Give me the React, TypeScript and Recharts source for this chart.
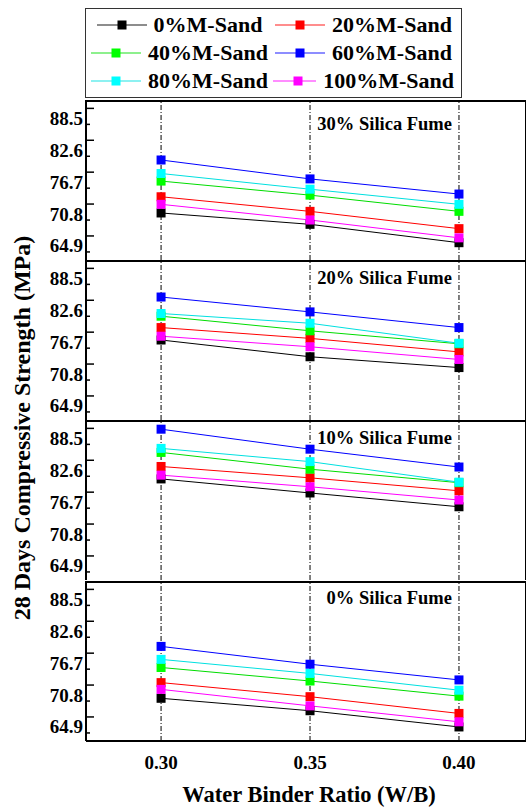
import React from 'react';
import { LineChart, Line, XAxis, YAxis, ReferenceLine } from 'recharts';

const wbRatios = [0.3, 0.35, 0.4];
const seriesNames = ['0%M-Sand', '20%M-Sand', '40%M-Sand', '60%M-Sand', '80%M-Sand', '100%M-Sand'];
const markerColors = ['#000000', '#ff0000', '#00ff00', '#0000ff', '#00ffff', '#ff00ff'];
const lineColors = ['#000000', '#ff0000', '#00dd00', '#0000ff', '#00e0e0', '#ff00ff'];
const yTicks = [64.9, 70.8, 76.7, 82.6, 88.5];
const panelTitles = ['30% Silica Fume', '20% Silica Fume', '10% Silica Fume', '0% Silica Fume'];

// values at W/B 0.30, 0.35, 0.40 for each M-Sand series (0,20,40,60,80,100 %)
const sf30Values = [
  [71.0, 68.9, 65.5],
  [74.0, 71.3, 68.1],
  [76.9, 74.3, 71.3],
  [80.8, 77.3, 74.5],
  [78.3, 75.4, 72.6],
  [72.6, 69.7, 66.4],
];
const sf20Values = [
  [77.1, 74.0, 72.0],
  [79.4, 77.4, 74.9],
  [81.5, 78.8, 76.4],
  [85.05, 82.3, 79.4],
  [82.0, 80.2, 76.5],
  [77.8, 75.85, 73.5],
];
const sf10Values = [
  [81.0, 78.4, 75.85],
  [83.3, 81.2, 78.8],
  [85.9, 82.8, 80.3],
  [90.2, 86.5, 83.2],
  [86.65, 84.2, 80.4],
  [81.7, 79.55, 77.1],
];
const sf0Values = [
  [70.2, 67.9, 64.9],
  [73.1, 70.5, 67.4],
  [75.9, 73.4, 70.6],
  [79.8, 76.5, 73.6],
  [77.4, 74.8, 71.7],
  [71.85, 68.8, 65.85],
];

const panelValues = [sf30Values, sf20Values, sf10Values, sf0Values];

const FONT = '"Liberation Serif", "Times New Roman", serif';
const PANEL_TOPS = [100, 260, 420, 581];
const PANEL_H = 160;
const TITLE_DY = [14, 8, 8, 7];
const Y_DOMAIN: [number, number] = [62.3, 91.9];
const X_DOMAIN: [number, number] = [0.2748, 0.4225];

const makeRows = (vals: number[][]) =>
  wbRatios.map((wb, i) => {
    const row: any = { wb };
    vals.forEach((s, k) => {
      row['s' + k] = s[i];
    });
    return row;
  });

const makeDot = (color: string) => (props: any) => {
  const { cx, cy, index } = props;
  if (cx == null || cy == null) return <g key={'d' + index} />;
  return <rect key={'d' + index} x={cx - 4.5} y={cy - 4.5} width={9} height={9} fill={color} />;
};

const YTick = (props: any) => {
  const { x, y, payload } = props;
  const ax = x + 3;
  return (
    <g>
      <line x1={ax} x2={ax + 8} y1={y - 10} y2={y - 10} stroke="#000" strokeWidth={1.5} />
      <line x1={ax} x2={ax + 4} y1={y + 6} y2={y + 6} stroke="#000" strokeWidth={1.5} />
      <text
        x={x}
        y={y}
        textAnchor="end"
        dominantBaseline="central"
        fontFamily={FONT}
        fontWeight="bold"
        fontSize={19}
        fill="#000"
      >
        {Number(payload.value).toFixed(1)}
      </text>
    </g>
  );
};

const XTick = (props: any) => {
  const { x, y, payload } = props;
  return (
    <text
      x={x}
      y={y + 21}
      textAnchor="middle"
      dominantBaseline="central"
      fontFamily={FONT}
      fontWeight="bold"
      fontSize={19}
      fill="#000"
    >
      {Number(payload.value).toFixed(2)}
    </text>
  );
};

const Panel = ({ idx }: { idx: number }) => {
  const isLast = idx === panelValues.length - 1;
  const rows = makeRows(panelValues[idx]);
  const h = isLast ? PANEL_H + 66 : PANEL_H;
  return (
    <div style={{ position: 'absolute', left: 0, top: PANEL_TOPS[idx] }}>
      <LineChart width={528} height={h} data={rows} margin={{ top: 0, right: 2, bottom: 0, left: 0 }}>
        <XAxis
          dataKey="wb"
          type="number"
          domain={X_DOMAIN}
          ticks={wbRatios}
          hide={!isLast}
          height={isLast ? 66 : 0}
          axisLine={{ stroke: '#000', strokeWidth: 2 }}
          tickLine={false}
          tickSize={0}
          tickMargin={0}
          tick={<XTick />}
          allowDataOverflow
        />
        <YAxis
          type="number"
          domain={Y_DOMAIN}
          ticks={yTicks}
          width={86}
          axisLine={{ stroke: '#000', strokeWidth: 2 }}
          tickLine={false}
          tickSize={0}
          tickMargin={3}
          tick={<YTick />}
          interval={0}
          allowDataOverflow
        />
        {wbRatios.map((wb) => (
          <ReferenceLine key={wb} x={wb} stroke="#000" strokeWidth={1} strokeDasharray="5 2 1 2" />
        ))}
        {seriesNames.map((name, k) => (
          <Line
            key={name}
            dataKey={'s' + k}
            name={name}
            type="linear"
            stroke={lineColors[k]}
            strokeWidth={1}
            dot={makeDot(markerColors[k])}
            activeDot={false}
            isAnimationActive={false}
          />
        ))}
      </LineChart>
      <div
        style={{
          position: 'absolute',
          left: 86,
          top: 0,
          width: 440,
          height: PANEL_H,
          boxSizing: 'border-box',
          borderTop: '2px solid #000',
          borderRight: '1.5px solid #000',
          pointerEvents: 'none',
        }}
      />
      <div
        style={{
          position: 'absolute',
          left: 252,
          width: 200,
          top: TITLE_DY[idx],
          textAlign: 'right',
          fontFamily: FONT,
          fontWeight: 'bold',
          fontSize: 18.5,
          lineHeight: '20px',
          color: '#000',
          whiteSpace: 'nowrap',
        }}
      >
        {panelTitles[idx]}
      </div>
    </div>
  );
};

const LegendItem = ({ k }: { k: number }) => (
  <div style={{ display: 'flex', alignItems: 'center', justifyContent: 'center', height: 28 }}>
    <svg width={50} height={12} style={{ display: 'block' }}>
      <line x1={0} x2={50} y1={6} y2={6} stroke={lineColors[k]} strokeOpacity={0.6} strokeWidth={1.5} />
      <rect x={20.5} y={1.5} width={9} height={9} fill={markerColors[k]} />
    </svg>
    <span
      style={{
        marginLeft: 7,
        fontFamily: FONT,
        fontWeight: 'bold',
        fontSize: 22,
        lineHeight: '28px',
        color: '#000',
        whiteSpace: 'nowrap',
      }}
    >
      {seriesNames[k]}
    </span>
  </div>
);

export default function App() {
  return (
    <div
      style={{
        position: 'absolute',
        left: 0,
        top: 0,
        width: 528,
        height: 808,
        background: '#fff',
        overflow: 'hidden',
        fontFamily: FONT,
      }}
    >
      <div
        style={{
          position: 'absolute',
          left: 85,
          top: 8,
          width: 377,
          height: 90,
          boxSizing: 'border-box',
          border: '1.5px solid #333',
          paddingTop: 2,
        }}
      >
        {[0, 1, 2].map((r) => (
          <div key={r} style={{ display: 'flex' }}>
            <div style={{ width: 187 }}>
              <LegendItem k={r * 2} />
            </div>
            <div style={{ width: 181 }}>
              <LegendItem k={r * 2 + 1} />
            </div>
          </div>
        ))}
      </div>
      {panelValues.map((_, i) => (
        <Panel key={i} idx={i} />
      ))}
      <div
        style={{
          position: 'absolute',
          left: 22 - 220,
          top: 428 - 15,
          width: 440,
          height: 30,
          lineHeight: '30px',
          textAlign: 'center',
          transform: 'rotate(-90deg)',
          fontFamily: FONT,
          fontWeight: 'bold',
          fontSize: 24,
          color: '#000',
          whiteSpace: 'nowrap',
        }}
      >
        28 Days Compressive Strength (MPa)
      </div>
      <div
        style={{
          position: 'absolute',
          left: 309 - 200,
          top: 795 - 15,
          width: 400,
          height: 30,
          lineHeight: '30px',
          textAlign: 'center',
          fontFamily: FONT,
          fontWeight: 'bold',
          fontSize: 22.5,
          color: '#000',
          whiteSpace: 'nowrap',
        }}
      >
        Water Binder Ratio (W/B)
      </div>
    </div>
  );
}
